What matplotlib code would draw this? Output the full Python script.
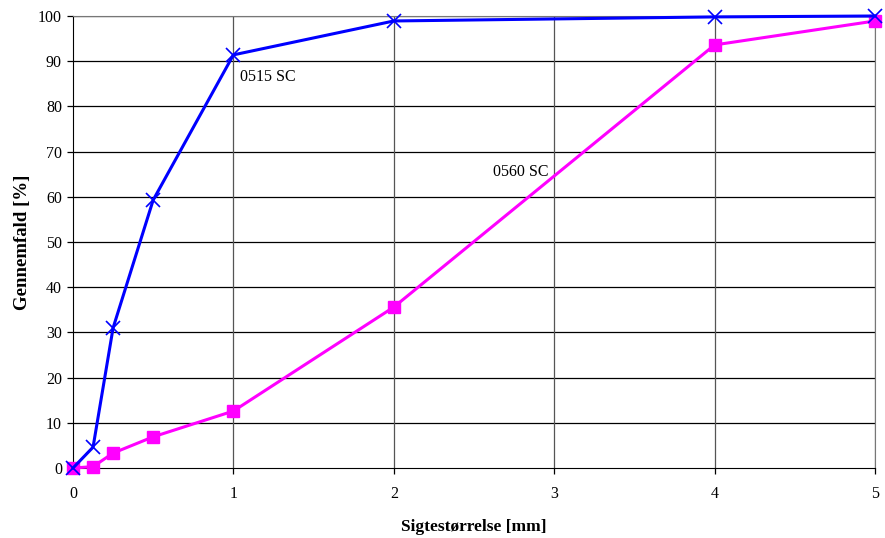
import matplotlib
matplotlib.use("Agg")
import matplotlib.pyplot as plt

sieve_mm = [0, 0.125, 0.25, 0.5, 1, 2, 4, 5]
pass_0515 = [0, 4.6, 31, 59.3, 91.4, 98.9, 99.8, 100]
pass_0560 = [0, 0.3, 3.3, 6.9, 12.6, 35.6, 93.6, 98.9]
x_ticks = [0, 1, 2, 3, 4, 5]
y_ticks = list(range(0, 101, 10))

plt.rcParams['font.family'] = ['Liberation Serif', 'DejaVu Serif']

fig = plt.figure(figsize=(8.85, 5.38), dpi=100)
ax = fig.add_axes([73/885, 1-468/538, (875-73)/885, (468-16)/538])

for y in y_ticks[1:]:
    ax.axhline(y, color='black', lw=0.9, zorder=1)
for x in x_ticks[1:]:
    ax.axvline(x, color='#555555', lw=0.9, zorder=1)

ax.plot(sieve_mm, pass_0560, color='#ff00ff', lw=2.2, marker='s', ms=9,
        mfc='#ff00ff', mec='#ff00ff', zorder=3, clip_on=False)
ax.plot(sieve_mm, pass_0515, color='#0000ff', lw=2.2, marker='x', ms=10,
        mew=1.2, zorder=4, clip_on=False)

ax.text(1.04, 86.5, '0515 SC', fontsize=11.5, va='center', ha='left')
ax.text(2.62, 65.5, '0560 SC', fontsize=11.5, va='center', ha='left')

ax.set_xlim(0, 5)
ax.set_ylim(0, 100)
ax.set_xticks(x_ticks)
ax.set_yticks(y_ticks)
ax.tick_params(axis='both', direction='out', length=4, width=0.9, labelsize=11.5, pad=4)
ax.tick_params(axis='x', pad=9)
for s in ['top', 'right']:
    ax.spines[s].set_color('#777777')
for s in ['left', 'bottom']:
    ax.spines[s].set_color('black')

ax.set_xlabel('Sigtestørrelse [mm]', fontsize=12.5, fontweight='bold', labelpad=12)
ax.set_ylabel('Gennemfald [%]', fontsize=13.5, fontweight='bold', labelpad=5)

fig.savefig('out.png', dpi=100)
